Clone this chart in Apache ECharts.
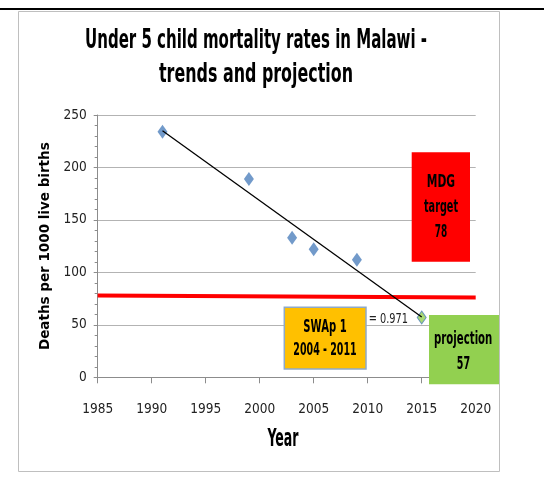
<!DOCTYPE html>
<html><head><meta charset="utf-8">
<script src="https://cdn.jsdelivr.net/npm/echarts@6/dist/echarts.min.js"></script>
<style>html,body{margin:0;padding:0;background:#fff}#c{width:544px;height:483px}</style>
</head><body><div id="c"></div>
<script>
// ---- data ----
const years = [1991, 1999, 2003, 2005, 2009];
const rates = [234, 189, 133, 122, 112];
const projectionYears = [2015];
const projectionRates = [57];
const trendYears = [1991, 2015];
const trendRates = [235, 57.5];
const targetYears = [1985, 2020];
const targetRates = [78, 76];
const yearTicks = [1985, 1990, 1995, 2000, 2005, 2010, 2015, 2020];
const rateTicks = [0, 50, 100, 150, 200, 250];
const titleLines = ['Under 5 child mortality rates in Malawi -', 'trends and projection'];
const xAxisName = 'Year';
const yAxisName = 'Deaths per 1000 live births';
const r2Label = 'R\u00b2 = 0.971';
const mdgLines = ['MDG', 'target', '78'];
const swapLines = ['SWAp 1', '2004 - 2011'];
const projLines = ['projection', '57'];

const NARROW = '"Liberation Sans Narrow","DejaVu Sans Condensed","Open Sans",sans-serif';
const ctx = document.createElement('canvas').getContext('2d');
function measure(str, font) { ctx.font = font; return ctx.measureText(str).width; }
function fitText(str, cx, cy, size, targetW, z) {
  const font = 'bold ' + size + 'px ' + NARROW;
  const w = measure(str, font);
  return {
    type: 'text', x: cx, y: cy, scaleX: targetW ? targetW / w : 1, z: z || 110,
    style: { text: str, font: font, fill: '#000', align: 'center', verticalAlign: 'middle',
             textAlign: 'center', textVerticalAlign: 'middle' }
  };
}
const r2Font = '14px ' + NARROW;
const r2Scale = 28 / measure('0.971', r2Font);

const chart = echarts.init(document.getElementById('c'), null, { renderer: 'canvas' });
const option = {
  animation: false,
  backgroundColor: '#fff',
  grid: { left: 97.7, right: 68.3, top: 115, bottom: 105.7, containLabel: false },
  xAxis: {
    type: 'value', min: yearTicks[0], max: yearTicks[yearTicks.length - 1],
    interval: yearTicks[1] - yearTicks[0],
    splitLine: { show: false },
    axisLine: { lineStyle: { color: '#8c8c8c', width: 1 } },
    axisTick: { show: true, length: 6, lineStyle: { color: '#8c8c8c' } },
    axisLabel: { fontSize: 13.5, fontFamily: NARROW, color: '#222', margin: 25,
                 formatter: v => String(v) }
  },
  yAxis: {
    type: 'value', min: rateTicks[0], max: rateTicks[rateTicks.length - 1],
    interval: rateTicks[1] - rateTicks[0],
    splitLine: { show: true, lineStyle: { color: '#b3b3b3', width: 1 } },
    axisLine: { show: true, lineStyle: { color: '#8c8c8c', width: 1 } },
    axisTick: { show: true, length: 4, lineStyle: { color: '#8c8c8c' } },
    minorTick: { show: true, splitNumber: 5, length: 3, lineStyle: { color: '#8c8c8c' } },
    axisLabel: { fontSize: 13.5, fontFamily: NARROW, color: '#222', margin: 11,
                 formatter: v => String(v) },
    name: yAxisName, nameLocation: 'middle', nameGap: 35,
    nameTextStyle: { fontSize: 13.5, fontWeight: 'bold', fontFamily: '"DejaVu Sans",sans-serif', color: '#000' }
  },
  series: [
    {
      type: 'line', data: targetYears.map((x, i) => [x, targetRates[i]]),
      showSymbol: false, symbol: 'none', lineStyle: { color: '#ff0000', width: 4 }, z: 3, silent: true
    },
    {
      type: 'scatter', data: years.map((x, i) => [x, rates[i]]),
      symbol: 'diamond', symbolSize: [10, 14], itemStyle: { color: '#4f81bd' }, z: 3
    },
    {
      type: 'scatter', data: projectionYears.map((x, i) => [x, projectionRates[i]]),
      symbol: 'diamond', symbolSize: [9, 13],
      itemStyle: { color: '#92d050', borderColor: '#4f81bd', borderWidth: 1 }, z: 3
    },
    {
      type: 'line', data: trendYears.map((x, i) => [x, trendRates[i]]),
      showSymbol: false, symbol: 'none', lineStyle: { color: '#000', width: 1.3 }, z: 4, silent: true
    }
  ],
  graphic: { elements: [
    { type: 'line', z: 120, shape: { x1: 0, y1: 9, x2: 544, y2: 9 }, style: { stroke: '#000', lineWidth: 2 } },
    { type: 'rect', z: -10, shape: { x: 18.5, y: 11.5, width: 481, height: 460 }, style: { fill: null, stroke: '#bfbfbf', lineWidth: 1 } },
    fitText(titleLines[0], 256, 41, 26, 342),
    fitText(titleLines[1], 256, 75, 26, 194),
    fitText(xAxisName, 283, 440, 24, 31),
    { type: 'text', x: 408, y: 319, z: 50, scaleX: r2Scale,
      style: { text: r2Label, font: r2Font, fill: '#222', align: 'right', verticalAlign: 'middle', textAlign: 'right', textVerticalAlign: 'middle' } },
    { type: 'rect', z: 100, shape: { x: 411.7, y: 152.3, width: 58.3, height: 109.4 }, style: { fill: '#ff0000' } },
    fitText(mdgLines[0], 441, 183, 17, 28.3),
    fitText(mdgLines[1], 441, 208, 17, 34),
    fitText(mdgLines[2], 441, 233, 17, 12.4),
    { type: 'rect', z: 100, shape: { x: 284.3, y: 307.3, width: 81.7, height: 61.7 }, style: { fill: '#ffc000', stroke: '#8ea9c8', lineWidth: 1.5 } },
    fitText(swapLines[0], 325, 327.7, 17, 43.3),
    fitText(swapLines[1], 325, 350.7, 17, 63.3),
    { type: 'rect', z: 100, shape: { x: 429, y: 315, width: 70, height: 69.3 }, style: { fill: '#92d050' } },
    fitText(projLines[0], 463.2, 339.3, 17, 58.3),
    fitText(projLines[1], 463.5, 365, 17, 13.3)
  ] }
};
chart.setOption(option);
</script></body></html>
